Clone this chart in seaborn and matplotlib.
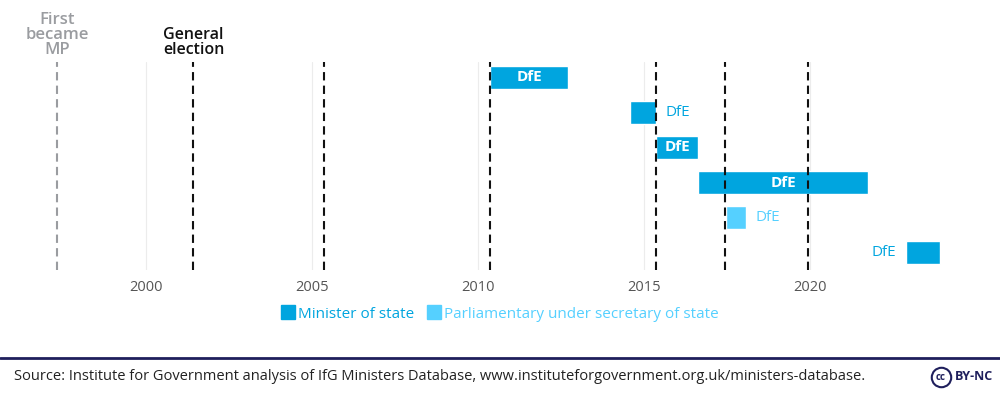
import matplotlib
matplotlib.use("Agg")
import matplotlib.pyplot as plt
import seaborn as sns
from matplotlib.lines import Line2D

# Ministerial posts (decimal years)
post_start = [2010.36, 2014.58, 2015.36, 2016.63, 2017.47, 2022.89]
post_end = [2012.71, 2015.36, 2016.63, 2021.75, 2018.07, 2023.92]
post_role = ["Minister of state", "Minister of state", "Minister of state",
             "Minister of state", "Parliamentary under secretary of state",
             "Minister of state"]
post_dept = ["DfE", "DfE", "DfE", "DfE", "DfE", "DfE"]

first_became_mp = 1997.33
general_elections = [2001.43, 2005.35, 2010.35, 2015.36, 2017.44, 2019.95]
year_ticks = [2000, 2005, 2010, 2015, 2020]

role_colors = {"Minister of state": "#00a5df",
               "Parliamentary under secretary of state": "#55d0ff"}

sns.set_theme(style="white")
plt.rcParams['font.family'] = ['Open Sans', 'DejaVu Sans']

fig = plt.figure(figsize=(10, 3.98), dpi=100)
ax = fig.add_axes([0.02, 0.3216, 0.94, 0.5226])
x_min, x_max = 1996.205, 2024.518
ax.set_xlim(x_min, x_max)
ax.set_ylim(5.49, -0.43)

# faint gridlines
for yr in year_ticks:
    ax.axvline(yr, color="#ececec", lw=0.8, zorder=0)

# reference lines
ax.axvline(first_became_mp, color="#9a9ca0", lw=1.5, dashes=(4, 2.5), zorder=1)
for ge in general_elections:
    ax.axvline(ge, color="#111111", lw=1.5, dashes=(4, 2.5), zorder=3)

for i, (s, e, r, d) in enumerate(zip(post_start, post_end, post_role, post_dept)):
    col = role_colors[r]
    ax.barh(i, e - s, left=s, height=0.65, color=col, zorder=2)
    w = e - s
    if w >= 1.1:
        ax.text((s + e) / 2, i, d, ha="center", va="center", color="white",
                fontsize=11, fontweight="bold", zorder=4)
    elif e + 1.5 > x_max:
        ax.annotate(d, (s, i), xytext=(-7, 0), textcoords="offset points",
                    ha="right", va="center", color=col, fontsize=11)
    else:
        ax.annotate(d, (e, i), xytext=(7, 0), textcoords="offset points",
                    ha="left", va="center", color=col, fontsize=11)

ax.annotate("First\nbecame\nMP", (first_became_mp, 1), xycoords=("data", "axes fraction"),
            xytext=(0, 3), textcoords="offset points", ha="center", va="bottom",
            color="#9a9ca0", fontsize=12, fontweight="semibold", linespacing=0.92)
ax.annotate("General\nelection", (general_elections[0], 1), xycoords=("data", "axes fraction"),
            xytext=(0, 3), textcoords="offset points", ha="center", va="bottom",
            color="#111111", fontsize=11.5, fontweight="semibold", linespacing=0.92)

ax.set_yticks([])
ax.set_xticks(year_ticks)
ax.set_xticklabels([str(y) for y in year_ticks])
ax.tick_params(axis="x", length=0, pad=7, labelsize=10.5, labelcolor="#555555")
sns.despine(ax=ax, left=True, bottom=True)

handles = [Line2D([], [], marker="s", ls="", markersize=10, color=role_colors[k])
           for k in role_colors]
fig.legend(handles, list(role_colors), loc="center", bbox_to_anchor=(0.5, 1 - 314 / 398),
           ncol=2, frameon=False, fontsize=11, handletextpad=0.25, columnspacing=0.9,
           handlelength=0.8, labelcolor=list(role_colors.values()))

# footer
fig.add_artist(Line2D([0, 1], [1 - 358 / 398] * 2, color="#1f1f5c", lw=2))
fig.text(0.014, 1 - 377 / 398,
         "Source: Institute for Government analysis of IfG Ministers Database, "
         "www.instituteforgovernment.org.uk/ministers-database.",
         ha="left", va="center", fontsize=10.5, color="#222222")
fig.add_artist(Line2D([0.9405], [1 - 377 / 398], marker="o", markersize=14,
                      markerfacecolor="none", markeredgecolor="#1f1f5c",
                      markeredgewidth=1.5, ls=""))
fig.text(0.9405, 1 - 377.5 / 398, "cc", ha="center", va="center", fontsize=7,
         fontweight="bold", color="#1f1f5c")
fig.text(0.955, 1 - 377 / 398, "BY-NC", ha="left", va="center", fontsize=9,
         fontweight="bold", color="#1f1f5c")

fig.savefig("out.png", dpi=100)
